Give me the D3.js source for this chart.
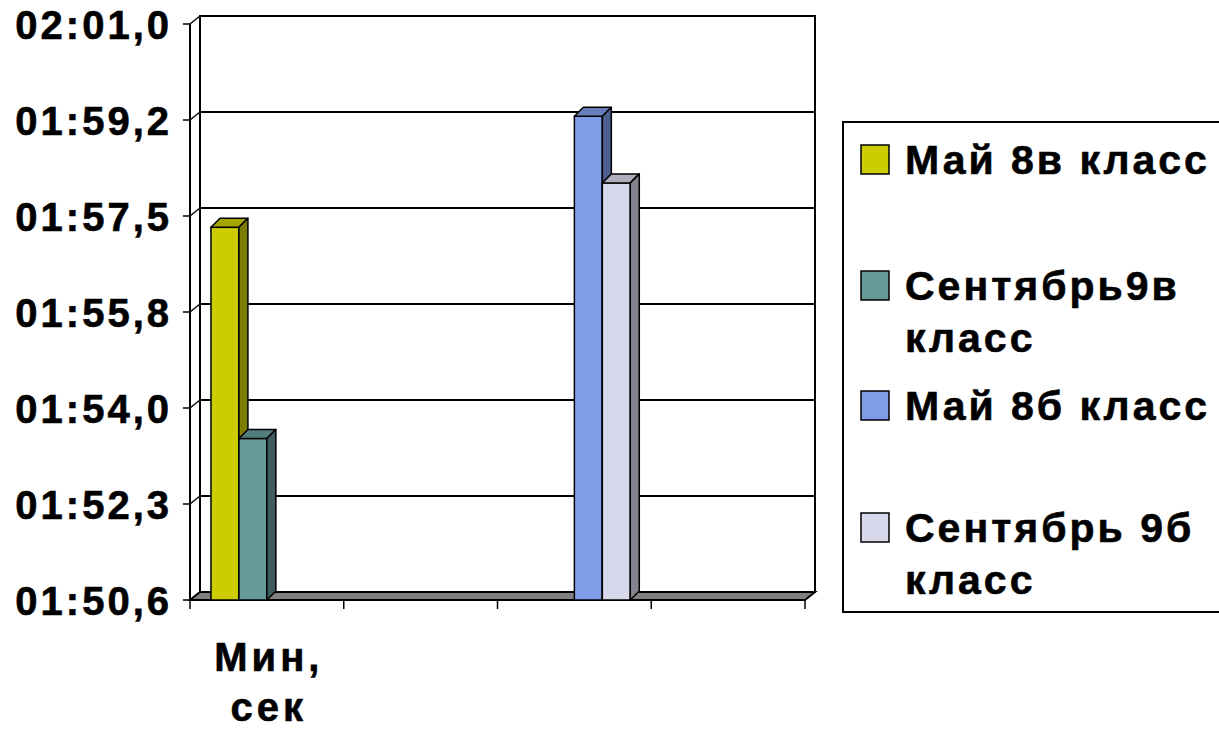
<!DOCTYPE html>
<html>
<head>
<meta charset="utf-8">
<script src="https://cdn.jsdelivr.net/npm/d3@7"></script>
<style>
  html, body { margin: 0; padding: 0; background: #fff; }
  svg { display: block; }
  text { font-family: "Liberation Sans", Arial, sans-serif; font-weight: bold; fill: #000; stroke: #000; stroke-width: 0.6px; }
</style>
</head>
<body>
<svg id="chart" width="1219" height="732"></svg>
<script>
// Times in seconds (1:57,3 = 117.3 s)
const categoryKeys = ["c1", "c2", "c3", "c4"];
const categoryLabels = [["Мин,", "сек"], [], [], []];
const seriesNames = ["Май 8в класс", "Сентябрь9в класс", "Май 8б класс", "Сентябрь 9б класс"];
const legendLines = [["Май 8в класс"], ["Сентябрь9в", "класс"], ["Май 8б класс"], ["Сентябрь 9б", "класс"]];
const may8v = [117.3, null, null, null];
const sep9v = [113.5, null, null, null];
const may8b = [null, null, 119.3, null];
const sep9b = [null, null, 118.1, null];
const yTickValues = [110.592, 112.32, 114.048, 115.776, 117.504, 119.232, 120.96];
const seriesColors = ["#CCCC00", "#669999", "#7F9DE6", "#D8D8EC"];

const seriesValues = [may8v, sep9v, may8b, sep9b];

(function draw() {
  const svg = d3.select("#chart");
  const W = 1219, H = 732;
  svg.append("rect").attr("width", W).attr("height", H).attr("fill", "#fff");

  // plot geometry (front plane) and 3D depth offset
  const plotLeft = 190, plotRight = 805, plotBottom = 600, plotTop = 24;
  const DX = 10, DY = 8;     // walls / floor depth
  const BDX = 9, BDY = 9;    // bar depth

  const y = d3.scaleLinear()
    .domain([yTickValues[0], yTickValues[yTickValues.length - 1]])
    .range([plotBottom, plotTop]);
  const x0 = d3.scaleBand().domain(categoryKeys).range([plotLeft, plotRight]).paddingInner(0).paddingOuter(0);
  const x1 = d3.scaleBand().domain(d3.range(seriesNames.length)).range([0, x0.bandwidth()])
    .paddingInner(0).paddingOuter(0.75);

  function fmtTime(v) {
    const m = Math.floor(v / 60);
    let s = (v - m * 60).toFixed(1);
    if (parseFloat(s) < 10) s = "0" + s;
    return String(m).padStart(2, "0") + ":" + s.replace(".", ",");
  }

  const stroke = "#000";
  const g = svg.append("g");

  // back wall
  g.append("rect")
    .attr("x", plotLeft + DX).attr("y", plotTop - DY)
    .attr("width", plotRight - plotLeft).attr("height", plotBottom - plotTop)
    .attr("fill", "#fff").attr("stroke", stroke).attr("stroke-width", 2);

  // side wall front edge
  g.append("line").attr("x1", plotLeft).attr("x2", plotLeft).attr("y1", plotTop).attr("y2", plotBottom)
    .attr("stroke", stroke).attr("stroke-width", 2);

  // gridlines, side-wall diagonals, ticks and labels
  yTickValues.forEach(v => {
    const yf = y(v), yb = yf - DY;
    if (v !== yTickValues[0]) {
      g.append("line").attr("x1", plotLeft + DX).attr("x2", plotRight + DX).attr("y1", yb).attr("y2", yb)
        .attr("stroke", stroke).attr("stroke-width", 2);
    }
    g.append("line").attr("x1", plotLeft).attr("x2", plotLeft + DX).attr("y1", yf).attr("y2", yb)
      .attr("stroke", stroke).attr("stroke-width", 1.5);
    g.append("line").attr("x1", plotLeft - 7).attr("x2", plotLeft).attr("y1", yf).attr("y2", yf)
      .attr("stroke", stroke).attr("stroke-width", 1.5);
    g.append("text")
      .attr("x", 172).attr("y", yf + 15)
      .attr("text-anchor", "end")
      .attr("font-size", 40).attr("letter-spacing", 3)
      .text(fmtTime(v));
  });

  // floor
  g.append("polygon")
    .attr("points", [[plotLeft, plotBottom], [plotLeft + DX, plotBottom - DY], [plotRight + DX, plotBottom - DY], [plotRight, plotBottom]]
      .map(p => p.join(",")).join(" "))
    .attr("fill", "#808080").attr("stroke", stroke).attr("stroke-width", 2);

  // category ticks
  const tickXs = categoryKeys.map(k => x0(k)).concat([plotRight]);
  tickXs.forEach(tx => {
    g.append("line").attr("x1", tx).attr("x2", tx).attr("y1", plotBottom).attr("y2", plotBottom + 9)
      .attr("stroke", stroke).attr("stroke-width", 1.5);
  });

  // category labels
  categoryKeys.forEach((k, i) => {
    const cx = x0(k) + x0.bandwidth() / 2;
    categoryLabels[i].forEach((line, j) => {
      g.append("text").attr("x", cx + 2).attr("y", 671 + j * 50)
        .attr("text-anchor", "middle").attr("font-size", 40).attr("letter-spacing", 4)
        .text(line);
    });
  });

  // bars: front face, top face, side face
  const shade = (c, k) => d3.rgb(c).darker(k);
  const bars = [];
  categoryKeys.forEach((k, ci) => {
    seriesValues.forEach((vals, si) => {
      if (vals[ci] != null) bars.push({ ci, si, v: vals[ci] });
    });
  });

  const barG = g.append("g");
  bars.forEach(b => {
    const bx = x0(categoryKeys[b.ci]) + x1(b.si);
    const bw = x1.bandwidth();
    const yt = y(b.v);
    const col = seriesColors[b.si];
    const bg = barG.append("g");
    bg.append("rect").attr("x", bx).attr("y", yt).attr("width", bw).attr("height", plotBottom - yt)
      .attr("fill", col).attr("stroke", stroke).attr("stroke-width", 1.5);
    bg.append("polygon")
      .attr("points", [[bx, yt], [bx + BDX, yt - BDY], [bx + bw + BDX, yt - BDY], [bx + bw, yt]].map(p => p.join(",")).join(" "))
      .attr("fill", shade(col, 0.6)).attr("stroke", stroke).attr("stroke-width", 1.5).attr("stroke-linejoin", "round");
    bg.append("polygon")
      .attr("points", [[bx + bw, yt], [bx + bw + BDX, yt - BDY], [bx + bw + BDX, plotBottom - BDY], [bx + bw, plotBottom]].map(p => p.join(",")).join(" "))
      .attr("fill", shade(col, 1.4)).attr("stroke", stroke).attr("stroke-width", 1.5).attr("stroke-linejoin", "round");
  });

  // legend
  const lg = svg.append("g");
  lg.append("rect").attr("x", 843).attr("y", 122).attr("width", 420).attr("height", 490)
    .attr("fill", "#fff").attr("stroke", stroke).attr("stroke-width", 2);
  const legendBaselines = [174, 300, 420, 542];
  seriesNames.forEach((name, i) => {
    const by = legendBaselines[i];
    lg.append("rect").attr("x", 861).attr("y", by - 29).attr("width", 28).attr("height", 29)
      .attr("fill", seriesColors[i]).attr("stroke", stroke).attr("stroke-width", 1.5);
    legendLines[i].forEach((line, j) => {
      lg.append("text").attr("x", 905).attr("y", by + j * 52)
        .attr("font-size", 41).attr("letter-spacing", 3)
        .text(line);
    });
  });
})();
</script>
</body>
</html>
